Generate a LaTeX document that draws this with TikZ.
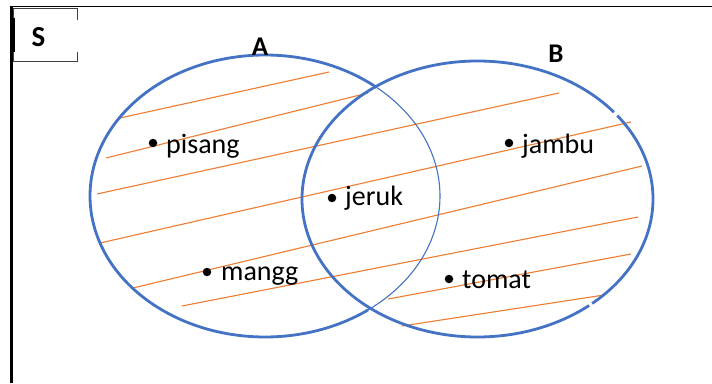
\documentclass[tikz,border=0pt]{standalone}
\usepackage{fontspec}
\setmainfont{Carlito}
\definecolor{vennblue}{HTML}{4472C4}
\definecolor{hatchorange}{HTML}{ED7D31}
\definecolor{boxgray}{HTML}{404040}
\begin{document}
\begin{tikzpicture}[x=1pt,y=-1pt,
  setthick/.style={draw=vennblue, line width=2.8pt},
  setthin/.style={draw=vennblue, line width=1.1pt},
  hatch/.style={draw=hatchorange, line width=1.1pt},
  elem/.style={anchor=base west, inner sep=0pt, font=\fontsize{28}{32}\selectfont},
  setname/.style={inner sep=0pt, font=\fontsize{27}{32}\selectfont\bfseries},
  dot/.style={circle, fill=black, inner sep=0pt, minimum size=8.5pt},
]
\useasboundingbox (0,0) rectangle (712,383);
\fill[white] (0,0) rectangle (712,383);

% universe frame (top and left edges)
\draw[black, line width=1.8pt] (10,6.5) -- (712,6.5);
\draw[black, line width=2.6pt] (11.3,6) -- (11.3,383);

% label box of the universe
\draw[boxgray, line width=0.9pt] (77,20) -- (77,8) -- (13,8) -- (13,61) -- (77,61) -- (77,52);
\draw[black, line width=3pt] (13.8,18) -- (13.8,52);
\node[setname, font=\fontsize{29}{32}\selectfont\bfseries] (S) at (38.5,37) {S};

% hatching
\draw[hatch] (120,118) -- (329,72);
\draw[hatch] (106,158) -- (368,93);
\draw[hatch] (97,194) -- (559,93);
\draw[hatch] (100,243) -- (631,122);
\draw[hatch] (133,288) -- (642,166);
\draw[hatch] (182,306) -- (638,217);
\draw[hatch] (388,299) -- (631,254);
\draw[hatch] (402,326) -- (604,295);

% set A: thick outside B, thin inside B
\coordinate (Ac) at (265,196);
\draw[setthick] (Ac) ++(-50.4:175 and 141)
  arc[start angle=-50.4, end angle=-306.1, x radius=175, y radius=141];
\draw[setthin] (Ac) ++(53.9:175 and 141)
  arc[start angle=53.9, end angle=-50.4, x radius=175, y radius=141];

% set B
\coordinate (Bc) at (477.5,199);
\draw[setthick] (Bc) ++(-39:175.5 and 138)
  arc[start angle=-39, end angle=-309.5, x radius=175.5, y radius=138];
\draw[setthick] (Bc) ++(49.2:175.5 and 138)
  arc[start angle=49.2, end angle=-37.2, x radius=175.5, y radius=138];

% set names
\node[setname] (A) at (260,47) {A};
\node[setname] (B) at (556,54) {B};

% elements
\node[dot] (d1) at (153,143) {};
\node[elem] (pisang) at (166,153) {pisang};
\node[dot] (d2) at (332,198) {};
\node[elem] (jeruk) at (345,205) {jeruk};
\node[dot] (d3) at (509,143) {};
\node[elem] (jambu) at (522,153) {jambu};
\node[dot] (d4) at (207,272) {};
\node[elem] (mangg) at (221,280) {mangg};
\node[dot] (d5) at (449,279) {};
\node[elem] (tomat) at (462,288) {tomat};
\end{tikzpicture}
\end{document}
